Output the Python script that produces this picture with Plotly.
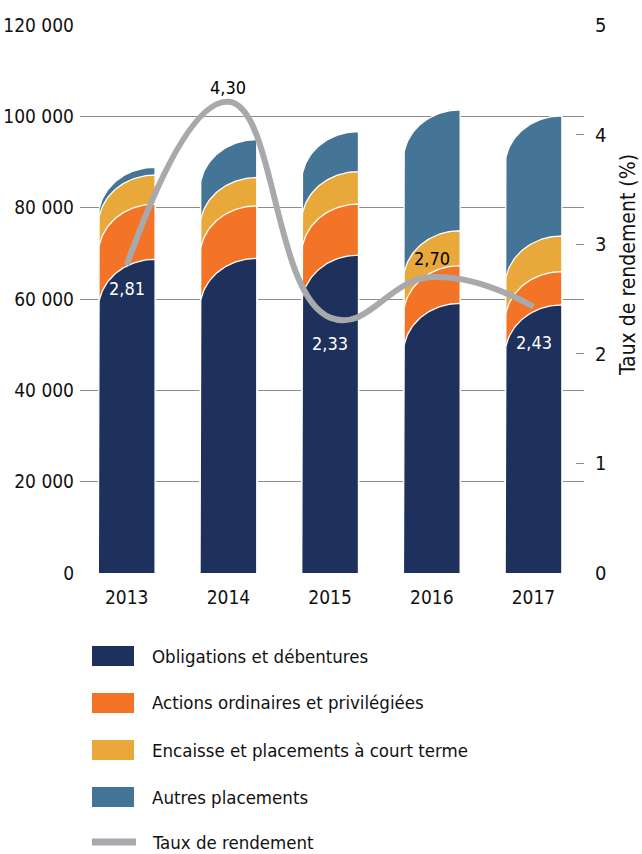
import numpy as np
import plotly.graph_objects as go

# Portefeuille de placements (milliers de $) et taux de rendement (%)
years = ["2013", "2014", "2015", "2016", "2017"]
obligations = [68700, 68900, 69600, 59050, 58700]
actions = [12100, 11500, 11200, 8250, 7300]
encaisse = [6350, 6200, 7100, 7650, 7800]
autres = [1700, 8300, 8750, 26450, 26300]
taux = [2.81, 4.30, 2.33, 2.70, 2.43]

series_names = [
    "Obligations et débentures",
    "Actions ordinaires et privilégiées",
    "Encaisse et placements à court terme",
    "Autres placements",
]
series_values = [obligations, actions, encaisse, autres]
series_colors = ["#1d315c", "#f37427", "#e8a83a", "#447596"]
line_color = "#a7a9ac"
line_name = "Taux de rendement"
y2_title = "Taux de rendement (%)"

FONT = "DejaVu Sans Condensed, Liberation Sans Narrow, Roboto, sans-serif"

# figure geometry (pixels)
W, H = 642, 854
L, R, T, B = 80, 58, 25, 281
plot_w = W - L - R
plot_h = H - T - B
px_per_cat = 101.7
x_lo = -(126.7 - L) / px_per_cat
x_hi = x_lo + plot_w / px_per_cat
y_max = 120000

half_w = 0.279          # half bar width, category units
arc_h = 11000           # vertical extent of the rounded top, data units
arc_t = np.linspace(0, np.pi / 2, 40)

x_pos = np.arange(len(years))
cum = np.cumsum(np.array(series_values, dtype=float), axis=0)


def bar_outline(xc, top):
    xl, xr = xc - half_w, xc + half_w
    xs = [xl, xl] + list(xr - 2 * half_w * np.cos(arc_t)) + [xr, xr]
    base = top - arc_h
    ys = [0, base] + list(base + arc_h * np.sin(arc_t)) + [top, 0]
    return xs, ys


fig = go.Figure()

# each segment is drawn from the baseline to its cumulative top, back to front
for k in reversed(range(len(series_values))):
    xs_all, ys_all = [], []
    for i in range(len(years)):
        xs, ys = bar_outline(x_pos[i], cum[k][i])
        xs_all += xs + [None]
        ys_all += ys + [None]
    fig.add_trace(go.Scatter(
        x=xs_all, y=ys_all, mode="lines", fill="toself",
        fillcolor=series_colors[k], line=dict(color="white", width=1.3),
        name=series_names[k], showlegend=False, hoverinfo="skip",
    ))

fig.add_trace(go.Scatter(
    x=x_pos, y=taux, yaxis="y2", mode="lines", name=line_name,
    line=dict(color=line_color, width=6, shape="spline", smoothing=1.3),
    showlegend=False,
))

# value labels on the rate line
label_shift = [-23, 14, -26, 19, -36]
label_color = ["white", "black", "white", "black", "white"]
for i, v in enumerate(taux):
    fig.add_annotation(
        x=x_pos[i], y=v, xref="x", yref="y2", yshift=label_shift[i],
        text=f"{v:.2f}".replace(".", ","), showarrow=False,
        font=dict(family=FONT, size=18, color=label_color[i]),
    )


# legend drawn in paper coordinates
def px_x(px):
    return (px - L) / plot_w


def px_y(py):
    return (T + plot_h - py) / plot_h


legend_rows = [656, 703, 750, 797, 842]
for j, name in enumerate(series_names + [line_name]):
    yc = legend_rows[j]
    if j < len(series_names):
        fig.add_shape(type="rect", xref="paper", yref="paper",
                      x0=px_x(92), x1=px_x(134), y0=px_y(yc + 10), y1=px_y(yc - 10),
                      fillcolor=series_colors[j], line=dict(width=0))
    else:
        fig.add_shape(type="line", xref="paper", yref="paper",
                      x0=px_x(92), x1=px_x(136), y0=px_y(yc), y1=px_y(yc),
                      line=dict(color=line_color, width=7))
    fig.add_annotation(
        x=px_x(150), y=px_y(yc), xref="paper", yref="paper",
        xanchor="left", yanchor="middle", text=name, showarrow=False,
        font=dict(family=FONT, size=18.5, color="#111111"),
    )

# right axis title
fig.add_annotation(
    x=px_x(628), y=px_y(265), xref="paper", yref="paper",
    text=y2_title, textangle=-90, showarrow=False,
    xanchor="center", yanchor="middle",
    font=dict(family=FONT, size=21, color="#111111"),
)

fig.update_layout(
    width=W, height=H, autosize=False,
    margin=dict(l=L, r=R, t=T, b=B, pad=0),
    paper_bgcolor="white", plot_bgcolor="white",
    separators=", ",
    font=dict(family=FONT, size=19, color="#111111"),
    showlegend=False,
    xaxis=dict(
        range=[x_lo, x_hi], tickvals=list(x_pos), ticktext=years,
        showgrid=False, zeroline=False, showline=False, ticks="",
        ticklabelstandoff=11, tickfont=dict(size=19), automargin=False,
    ),
    yaxis=dict(
        range=[0, y_max], tickvals=list(range(0, y_max + 1, 20000)),
        tickformat=",d", showgrid=True, gridcolor="#8c8c8c", gridwidth=1,
        zeroline=False, showline=False, ticks="", ticklabelstandoff=5,
        tickfont=dict(size=19), automargin=False,
    ),
    yaxis2=dict(
        range=[0, 5], tickvals=[0, 1, 2, 3, 4, 5], overlaying="y", side="right",
        showgrid=False, zeroline=False, showline=False,
        ticks="inside", ticklen=8, tickcolor="#8c8c8c", tickwidth=1,
        ticklabelstandoff=10, tickfont=dict(size=20), automargin=False,
    ),
)

fig.write_html("out.html")
